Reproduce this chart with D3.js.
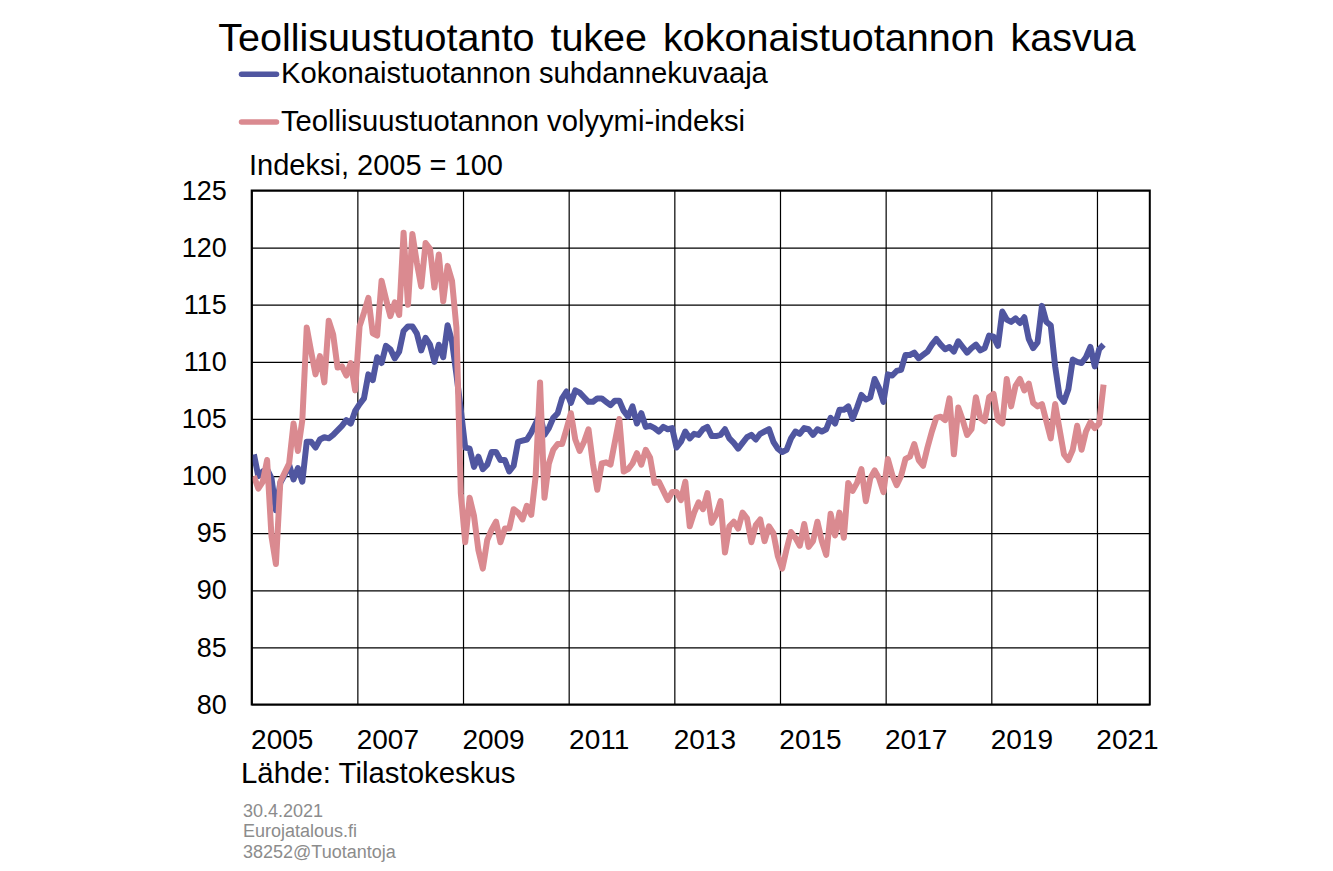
<!DOCTYPE html>
<html>
<head>
<meta charset="utf-8">
<script src="https://cdn.jsdelivr.net/npm/d3@7"></script>
<style>
  html, body { margin: 0; padding: 0; background: #fff; }
  text { font-family: "Liberation Sans", Arial, sans-serif; fill: #000; }
</style>
</head>
<body>
<svg id="chart" width="1333" height="871" style="display:block"></svg>
<script>
// monthly values, first one is January 2005
var startYear = 2005
var kokonaistuotanto = [
  101.9,100,100.4,100.6,99.8,97,99.4,100.1,101,99.7,100.7,99.5,
  103,103,102.5,103.2,103.4,103.3,103.6,104,104.4,104.9,104.6,105.7,
  106.3,106.8,108.9,108.4,110.4,109.9,111.4,111.1,110.3,110.9,112.7,113.1,
  113.1,112.5,111,112.1,111.5,110,111.5,110.4,113.2,111.8,108.9,105.8,
  102.5,102.4,100.8,101.7,100.6,101,102.1,102.1,101.4,101.4,100.4,100.9,
  103,103.1,103.2,103.8,104.6,105.4,103.6,104.2,105.1,105.5,106.8,107.4,
  106.4,107.5,107.3,106.9,106.5,106.5,106.8,106.8,106.5,106.2,106.6,106.6,
  105.7,105.2,106.1,104.6,105.5,104.3,104.4,104.2,103.9,104.3,104.1,104.2,
  102.5,103,103.9,103.3,103.7,103.6,104.1,104.3,103.5,103.5,103.6,104.1,
  103.3,102.9,102.4,102.9,103.4,103.6,103.2,103.7,103.9,104.1,103,102.4,
  102.1,102.3,103.3,103.9,103.7,104.2,104.1,103.6,104.1,103.9,104.1,105.1,
  104.6,105.8,105.8,106.1,105,106,107.1,106.7,106.9,108.5,107.7,106.5,
  108.9,108.8,109.2,109.3,110.6,110.6,110.8,110.3,110.6,110.9,111.5,112,
  111.5,111.1,111.3,110.9,111.8,111.3,110.8,111.2,111.5,111,111.2,112.3,
  112.2,111.4,114.4,113.7,113.5,113.8,113.4,113.9,112,111.2,111.7,114.9,
  113.5,113.2,109.6,107,106.5,107.6,110.2,110,109.9,110.4,111.3,109.6,
  111.1,111.5
]
var teollisuustuotanto = [
  100,98.9,99.5,101.4,94.7,92.3,99.5,100.3,101.1,104.6,102.2,104.9,
  113,110.9,108.9,110.5,108.2,113.6,112.4,109.5,109.6,108.8,109.9,107.5,
  113.1,114.3,115.6,112.5,112.3,117.1,115.5,114,115.2,114.1,121.3,115,
  121.2,118.7,116.6,120.4,119.9,116.5,119.4,115.3,118.4,117.1,113,98.5,
  94.2,98.1,96.5,93.5,91.9,94.4,95.3,96,94.2,95.4,95.4,97.1,
  96.8,96.2,97.4,96.6,100,108.2,98.1,101.1,102.3,102.8,102.8,104.1,
  105.5,103.2,102.2,103,104.1,101.1,98.8,101.1,101.2,101,103,105,
  100.4,100.6,101.1,102,101,102.3,101.6,99.4,99.5,98.7,97.9,98.6,
  98.6,97.9,99.5,95.6,96.8,97.7,97.1,98.5,95.9,96.6,97.8,93.3,
  95.6,96,95.4,96.8,96.3,94.2,95.7,96.2,94.3,95.6,95,93,
  91.9,93.6,95.1,94.6,93.9,95.8,93.8,94.3,96,94.3,93.1,96.7,
  94.8,96.8,94.6,99.4,98.7,99.4,100.6,97.8,99.8,100.5,99.8,98.6,
  101.5,100.1,99.2,100,101.5,101.7,102.8,101.4,100.9,102.5,103.9,105.1,
  105.2,104.9,106.8,101.9,106,104.9,103.6,104.1,106.9,105.1,104.8,106.9,
  107.2,104.9,104.6,108.5,106.1,107.9,108.5,107.5,108.1,106.4,106.1,106.3,
  104.8,103.3,106.3,104.1,101.9,101.4,102.3,104.4,102.3,103.9,104.7,104.2,
  104.6,108
]
var yTicks = [80, 85, 90, 95, 100, 105, 110, 115, 120, 125]
var xTickYears = [2005, 2007, 2009, 2011, 2013, 2015, 2017, 2019, 2021]
var seriesNames = ["Kokonaistuotannon suhdannekuvaaja", "Teollisuustuotannon volyymi-indeksi"]
var seriesColors = ["#5056a0", "#da8a90"]
var footerLines = ["30.4.2021", "Eurojatalous.fi", "38252@Tuotantoja"]

var svg = d3.select("#chart")

var plotLeft = 251.7, plotRight = 1149.8, plotTop = 190.5, plotBottom = 704.5

// x runs in months from the start of 2005, 17 years wide
var x = d3.scaleLinear().domain([0, 204]).range([plotLeft, plotRight])
var y = d3.scaleLinear().domain([80, 125]).range([plotBottom, plotTop])

function monthsOf(year) { return (year - startYear) * 12 }

// grid + frame
var yAxis = d3.axisLeft(y).tickValues(yTicks).tickSize(-(plotRight - plotLeft))
var gy = svg.append("g").attr("transform", "translate(" + plotLeft + ",0)").call(yAxis)
gy.select(".domain").remove()
gy.selectAll("line").attr("stroke", "#000").attr("stroke-width", 1.2)
gy.selectAll("text").style("font-size", "27px").attr("x", -25).attr("text-anchor", "end")

var xAxis = d3.axisBottom(x).tickValues(xTickYears.map(monthsOf))
  .tickSize(-(plotBottom - plotTop)).tickFormat(function(d) { return startYear + d / 12 })
var gx = svg.append("g").attr("transform", "translate(0," + plotBottom + ")").call(xAxis)
gx.select(".domain").remove()
gx.selectAll("line").attr("stroke", "#000").attr("stroke-width", 1.2)
// year labels sit to the right of their tick, like the original
gx.selectAll("text").style("font-size", "28px").attr("text-anchor", "middle").attr("x", 30).attr("y", 44).attr("dy", 0)

// points sit mid month
var line = d3.line()
  .x(function(d, i) { return x(i + 0.5) })
  .y(function(d) { return y(d) })

;[kokonaistuotanto, teollisuustuotanto].forEach(function(values, i) {
  svg.append("path").datum(values)
    .attr("d", line)
    .attr("fill", "none")
    .attr("stroke", seriesColors[i])
    .attr("stroke-width", 6)
    .attr("stroke-linejoin", "round")
})

svg.append("rect").attr("x", plotLeft).attr("y", plotTop)
  .attr("width", plotRight - plotLeft).attr("height", plotBottom - plotTop)
  .attr("fill", "none").attr("stroke", "#000").attr("stroke-width", 2)

// title
svg.append("text").attr("x", 677).attr("y", 51).attr("text-anchor", "middle")
  .style("font-size", "39.5px").style("word-spacing", "5px")
  .text("Teollisuustuotanto tukee kokonaistuotannon kasvua")

// legend
var legendY = [74.3, 122]
var legendBase = [83, 130.5]
seriesNames.forEach(function(name, i) {
  svg.append("line").attr("x1", 241.5).attr("x2", 276.5).attr("y1", legendY[i]).attr("y2", legendY[i])
    .attr("stroke", seriesColors[i]).attr("stroke-width", 5.5).attr("stroke-linecap", "round")
  svg.append("text").attr("x", 281).attr("y", legendBase[i]).style("font-size", "29.2px").text(name)
})

svg.append("text").attr("x", 249).attr("y", 174.5).style("font-size", "29px").text("Indeksi, 2005 = 100")
svg.append("text").attr("x", 241).attr("y", 783).style("font-size", "29.4px").text("Lähde: Tilastokeskus")

footerLines.forEach(function(t, i) {
  svg.append("text").attr("x", 243).attr("y", 816.5 + i * 20.8)
    .style("font-size", "18px").style("fill", "#8c8c8c").text(t)
})
</script>
</body>
</html>
